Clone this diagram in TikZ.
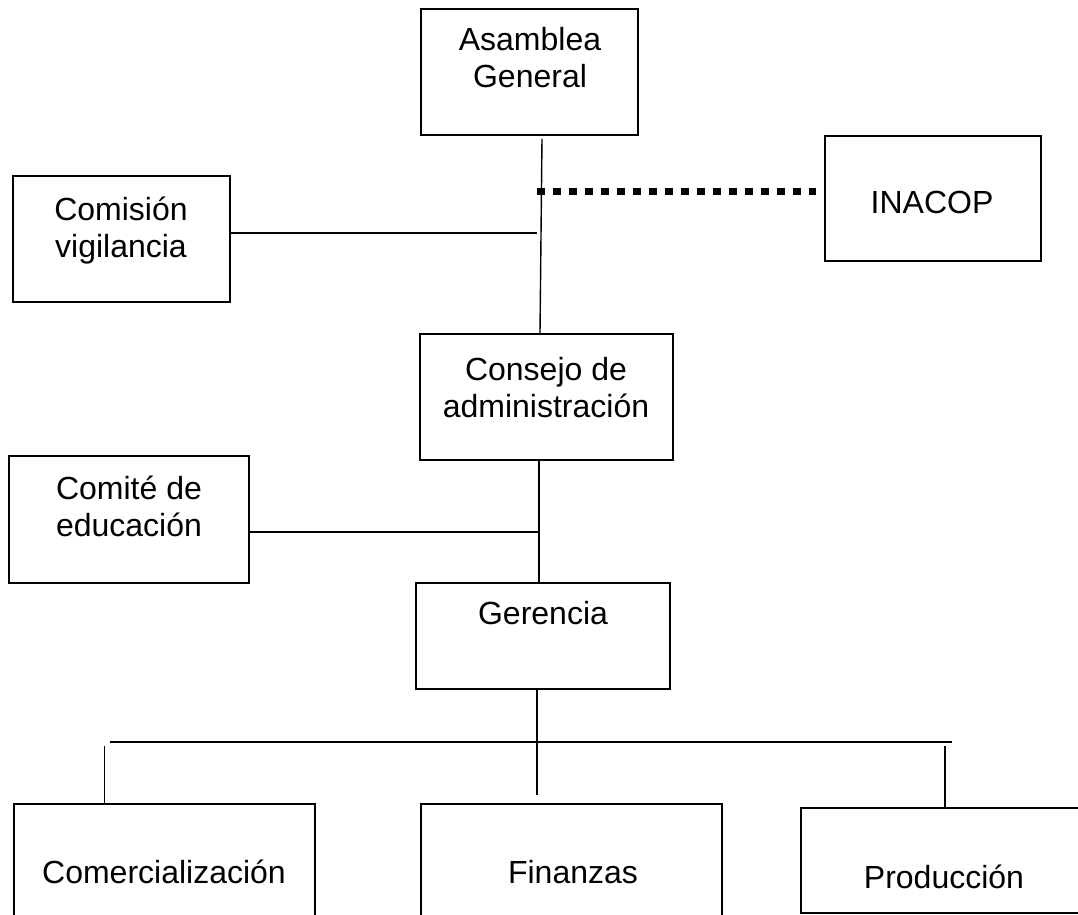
\documentclass[tikz,border=0pt]{standalone}
\usepackage{fontspec}
\setmainfont{Liberation Sans}
\usetikzlibrary{calc}
\tikzset{
  box/.style={draw, line width=0.9pt, inner sep=0pt},
  txt/.style={align=center, font=\fontsize{16}{18.5}\selectfont, inner sep=0pt},
  link/.style={line width=0.7pt},
  tie/.style={line width=3.5pt, dash pattern=on 4pt off 4pt}
}
\begin{document}
\begin{tikzpicture}[x=0.5pt,y=-0.5pt]

    \useasboundingbox (0,0) rectangle (1078,915);
    \clip (0,0) rectangle (1078,915);

    \node[box, minimum width=108.5pt, minimum height=63pt] at (529.5,72) (asamblea) {};
    \node[box, minimum width=108pt, minimum height=62.5pt] at (933,198.5) (inacop) {};
    \node[box, minimum width=108.5pt, minimum height=63pt] at (121.5,239) (comision) {};
    \node[box, minimum width=126.5pt, minimum height=63pt] at (546.5,397) (consejo) {};
    \node[box, minimum width=120pt, minimum height=63.5pt] at (129,519.5) (comite) {};
    \node[box, minimum width=127pt, minimum height=53pt] at (543,636) (gerencia) {};
    \node[box, minimum width=150.5pt, minimum height=80pt] at (164.5,884) (comercial) {};
    \node[box, minimum width=150.5pt, minimum height=80pt] at (571.5,884) (finanzas) {};
    \node[box, minimum width=145pt, minimum height=52.5pt] at (946,860.5) (produccion) {};

    \node[txt] at (530,58) (tasamblea) {Asamblea\\General};
    \node[txt] at (932,202) (tinacop) {INACOP};
    \node[txt] at (121,231) (tcomision) {Comisión\\vigilancia};
    \node[txt] at (546,388) (tconsejo) {Consejo de\\administración};
    \node[txt] at (129,506) (tcomite) {Comité de\\educación};
    \node[txt] at (543,613) (tgerencia) {Gerencia};
    \node[txt] at (164,872) (tcomercial) {Comercialización};
    \node[txt] at (573,872) (tfinanzas) {Finanzas};
    \node[txt] at (944,877) (tproduccion) {Producción};

    \coordinate (jv) at (537,233);
    \coordinate (jd) at (537,192);
    \coordinate (jc) at (539,532);
    \coordinate (jg) at (537,795);
    \coordinate (busL) at (110,742);
    \coordinate (busR) at (952,742);
    \coordinate (dl) at (104.5,746);
    \coordinate (dr) at (945,746);

    \draw[link] ($(asamblea.south)+(12.5,3)$) -- ($(consejo.north)+(-6.5,0)$);
    \draw[link] (comision.east |- jv) -- (jv);
    \draw[tie] (jd) -- ($(inacop.west |- jd)+(-8,0)$);
    \draw[link] ($(consejo.south)+(-7.5,0)$) -- ($(gerencia.north)+(-4,0)$);
    \draw[link] (comite.east |- jc) -- (jc);
    \draw[link] ($(gerencia.south)+(-6,0)$) -- (jg);
    \draw[line width=1pt] (busL) -- (busR);
    \draw[link] (dl) -- (dl |- comercial.north);
    \draw[link] (dr) -- (dr |- produccion.north);
\end{tikzpicture}
\end{document}
